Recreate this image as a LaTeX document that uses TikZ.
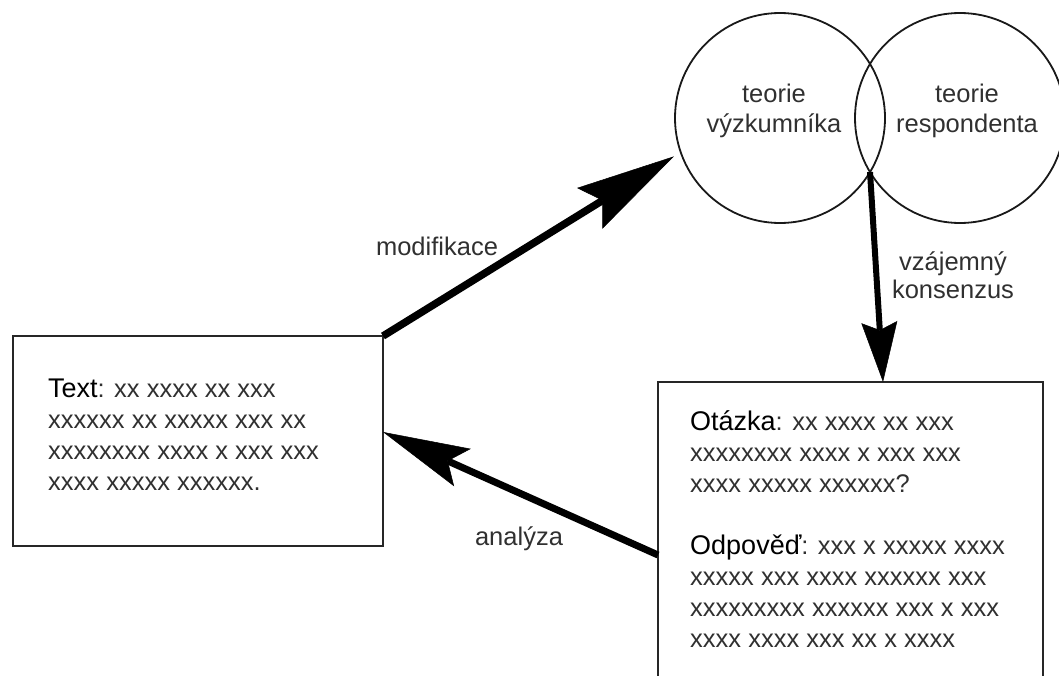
\documentclass[tikz,border=0pt]{standalone}
\usepackage{fontspec}
\setmainfont{Liberation Sans}
\usetikzlibrary{arrows.meta}
\definecolor{txt}{HTML}{303030}
\newcommand{\headword}[1]{{\fontsize{27}{30.7}\selectfont\textcolor{black}{#1}}}
\begin{document}
\begin{tikzpicture}[x=1pt,y=-1pt,
  textframe/.style={draw=black!85, line width=1.8pt, rectangle, inner sep=0pt, outer sep=0pt},
  ringnode/.style={draw=black!90, line width=1.8pt, circle, minimum size=210pt, inner sep=0pt, outer sep=0pt},
  labeltext/.style={font=\fontsize{25.5}{30}\selectfont, text=txt, align=center, inner sep=0pt, anchor=base},
  bodytext/.style={font=\fontsize{25.5}{30.7}\selectfont, text=txt, align=left, inner sep=0pt, anchor=base west},
]
\useasboundingbox (0,0) rectangle (1059,675);
\clip (0,0) rectangle (1059,675);

% boxes and circles
\node[textframe, minimum width=370pt, minimum height=210pt, anchor=north west] (textbox) at (13,336) {};
\node[textframe, minimum width=385pt, minimum height=340pt, anchor=north west] (qabox) at (658,382) {};
\node[ringnode] (vyz) at (780,118) {};
\node[ringnode] (resp) at (960,118) {};

% texts (anchor base = baseline of the last line)
\node[labeltext] (vyzlabel) at (774,132) {teorie\\výzkumníka};
\node[labeltext] (resplabel) at (967,132) {teorie\\respondenta};
\node[bodytext] (textpara) at (48,490) {\headword{Text}: xx xxxx xx xxx\\xxxxxx xx xxxxx xxx xx\\xxxxxxxx xxxx x xxx xxx\\xxxx xxxxx xxxxxx.};
\node[bodytext] (otazka) at (690,492) {\headword{Otázka}: xx xxxx xx xxx\\xxxxxxxx xxxx x xxx xxx\\xxxx xxxxx xxxxxx?};
\node[bodytext] (odpoved) at (690,647) {\headword{Odpověď}: xxx x xxxxx xxxx\\xxxxx xxx xxxx xxxxxx xxx\\xxxxxxxxx xxxxxx xxx x xxx\\xxxx xxxx xxx xx x xxxx};
\node[labeltext] (modlabel) at (437,255) {modifikace};
\node[labeltext] (anlabel) at (519,545) {analýza};
\node[labeltext, font=\fontsize{25.5}{28}\selectfont] (konlabel) at (953,298) {vzájemný\\konsenzus};

% connectors
\coordinate (meet) at (870,172);
\coordinate (drop) at (883,382);
\draw[line width=7.5pt, -{Stealth[length=99pt,width=48pt,inset=15pt,line width=0.5pt]}, shorten >=8pt]
  (textbox.north east) -- (vyz.199);
\draw[line width=6pt, -{Stealth[length=60pt,width=36pt,inset=8pt,line width=0.5pt]}]
  (meet) -- (drop);
\draw[line width=7pt, -{Stealth[length=87pt,width=41pt,inset=16pt,line width=0.5pt]}]
  ([yshift=-3pt]qabox.west) -- ([yshift=9pt]textbox.east);
\end{tikzpicture}
\end{document}
